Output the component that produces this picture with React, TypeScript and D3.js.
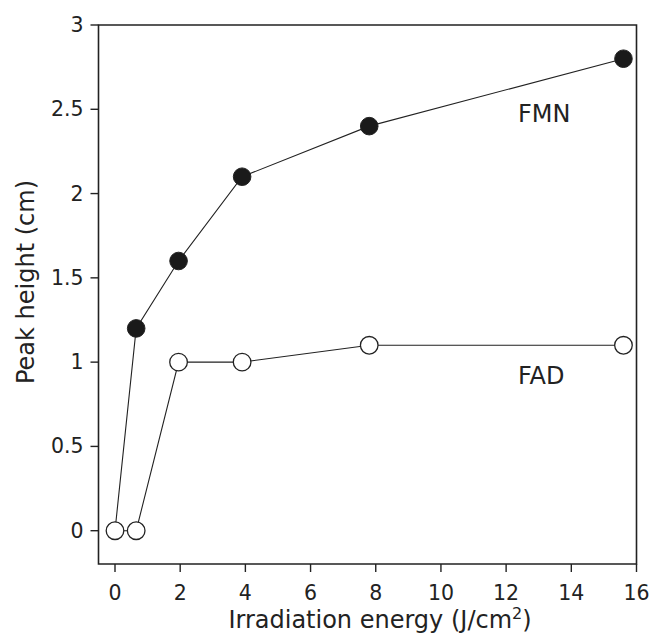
import React from "react";
import * as d3 from "d3";

const energy = [0, 0.65, 1.95, 3.9, 7.8, 15.6];
const fmnValues = [0, 1.2, 1.6, 2.1, 2.4, 2.8];
const fadValues = [0, 0, 1.0, 1.0, 1.1, 1.1];
const xTicks = [0, 2, 4, 6, 8, 10, 12, 14, 16];
const yTicks = [0, 0.5, 1, 1.5, 2, 2.5, 3];
const yTickLabels = ["0", "0.5", "1", "1.5", "2", "2.5", "3"];

const W = 652;
const H = 634;
const left = 98.5;
const right = 636.5;
const top = 25;
const bottom = 564;
const font = "Verdana, 'DejaVu Sans', sans-serif";
const ink = "#222";

export default function App() {
  const x = d3.scaleLinear().domain([0, 16]).range([115, 636.5]);
  const y = d3.scaleLinear().domain([0, 3]).range([530.7, 25]);
  const line = d3
    .line<[number, number]>()
    .x((d) => x(d[0]))
    .y((d) => y(d[1]));
  const fmn: [number, number][] = energy.map((e, i) => [e, fmnValues[i]]);
  const fad: [number, number][] = energy.map((e, i) => [e, fadValues[i]]);

  return (
    <svg
      width={W}
      height={H}
      style={{ position: "absolute", left: 0, top: 0, background: "#fff" }}
      fontFamily={font}
    >
      <rect x={0} y={0} width={W} height={H} fill="#fff" />
      {/* frame */}
      <path
        d={`M${left},${top}H${right}V${bottom}H${left}Z`}
        fill="none"
        stroke={ink}
        strokeWidth={1.6}
      />
      {/* y ticks */}
      {yTicks.map((t, i) => (
        <g key={"y" + t}>
          <line x1={left - 8} x2={left} y1={y(t)} y2={y(t)} stroke={ink} strokeWidth={1.4} />
          <text
            x={left - 15}
            y={y(t)}
            textAnchor="end"
            dominantBaseline="central"
            fontSize={20.5}
            fill={ink}
          >
            {yTickLabels[i]}
          </text>
        </g>
      ))}
      {/* x ticks */}
      {xTicks.map((t) => (
        <g key={"x" + t}>
          <line x1={x(t)} x2={x(t)} y1={bottom} y2={bottom + 8} stroke={ink} strokeWidth={1.4} />
          <text x={x(t)} y={bottom + 36} textAnchor="middle" fontSize={20.5} fill={ink}>
            {t}
          </text>
        </g>
      ))}
      {/* axis titles */}
      <text x={380} y={628} textAnchor="middle" fontSize={24} fill={ink}>
        Irradiation energy (J/cm
        <tspan baselineShift="super" fontSize={16}>
          2
        </tspan>
        )
      </text>
      <text
        transform={`translate(34,282) rotate(-90)`}
        textAnchor="middle"
        fontSize={24}
        fill={ink}
      >
        Peak height (cm)
      </text>
      {/* lines */}
      <path d={line(fmn) || ""} fill="none" stroke={ink} strokeWidth={1.1} />
      <path d={line(fad) || ""} fill="none" stroke={ink} strokeWidth={1.1} />
      {/* markers */}
      {fad.map((d, i) => (
        <circle key={"fad" + i} cx={x(d[0])} cy={y(d[1])} r={8.8} fill="#fff" stroke={ink} strokeWidth={1.3} />
      ))}
      {fmn.slice(1).map((d, i) => (
        <circle key={"fmn" + i} cx={x(d[0])} cy={y(d[1])} r={8.8} fill="#1a1a1a" stroke={ink} strokeWidth={1} />
      ))}
      {/* series labels */}
      <text x={518} y={122} fontSize={24} fill={ink}>
        FMN
      </text>
      <text x={518} y={384} fontSize={24} fill={ink}>
        FAD
      </text>
    </svg>
  );
}
